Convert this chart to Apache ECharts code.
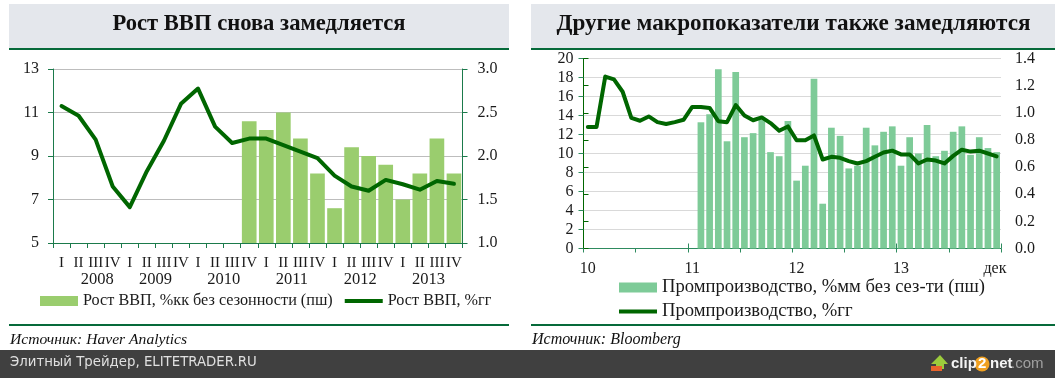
<!DOCTYPE html>
<html><head><meta charset="utf-8">
<style>html,body{margin:0;padding:0;background:#fff}#c{width:1055px;height:378px}</style>
<script src="https://cdn.jsdelivr.net/npm/echarts@6/dist/echarts.min.js"></script>
</head><body><div id="c"></div>
<script>
const quarters = ['I','II','III','IV','I','II','III','IV','I','II','III','IV','I','II','III','IV','I','II','III','IV','I','II','III','IV'];
const years = ['2008','2009','2010','2011','2012','2013'];
const gdpYoY = [11.3,10.85,9.75,7.6,6.65,8.3,9.7,11.4,12.1,10.35,9.6,9.8,9.8,9.5,9.2,8.9,8.1,7.6,7.4,7.9,7.7,7.45,7.85,7.72];
const gdpQoQ = [null,null,null,null,null,null,null,null,null,null,null,2.4,2.3,2.5,2.2,1.8,1.4,2.1,2.0,1.9,1.5,1.8,2.2,1.8];
const monthTickLabels = ['10','11','12','13','дек'];
const months = ['янв10','фев10','мар10','апр10','май10','июн10','июл10','авг10','сен10','окт10','ноя10','дек10','янв11','фев11','мар11','апр11','май11','июн11','июл11','авг11','сен11','окт11','ноя11','дек11','янв12','фев12','мар12','апр12','май12','июн12','июл12','авг12','сен12','окт12','ноя12','дек12','янв13','фев13','мар13','апр13','май13','июн13','июл13','авг13','сен13','окт13','ноя13','дек13'];
const indYoY = [12.8,12.8,18.1,17.8,16.5,13.75,13.45,13.9,13.3,13.1,13.3,13.55,14.9,14.9,14.8,13.4,13.3,15.1,14.0,13.5,13.8,13.2,12.4,12.85,11.4,11.4,11.9,9.37,9.65,9.55,9.2,8.95,9.2,9.65,10.1,10.3,9.9,9.9,8.95,9.37,9.26,8.95,9.75,10.4,10.2,10.3,10.0,9.7];
const indMoM = [null,null,null,null,null,null,null,null,null,null,null,null,null,0.93,0.99,1.32,0.79,1.3,0.82,0.85,0.95,0.71,0.68,0.94,0.5,0.61,1.25,0.33,0.89,0.83,0.59,0.61,0.89,0.76,0.86,0.9,0.61,0.82,0.7,0.91,0.68,0.72,0.86,0.9,0.69,0.82,0.74,0.71];
const names = {a:'Рост ВВП, %кк без сезонности (пш)', b:'Рост ВВП, %гг', c:'Промпроизводство, %мм без сез-ти (пш)', d:'Промпроизводство, %гг'};

const F = '"Liberation Serif", serif';
const txt = '#1a1a1a', dkGreen = '#006600', axGreen = '#1b7a4b';
const grids = [
  {left:53, top:69, width:409.5, height:174},
  {left:583.5, top:58.5, width:417.5, height:190}
];
const lbl = (o)=>Object.assign({color:txt,fontFamily:F,fontSize:16},o);
const yearAt = [2.6,6,10,14,18,22], monthAt = [0.5,12.5,24.5,36.5,47.3];
const xAxis = [
  {gridIndex:0,type:'category',data:quarters,boundaryGap:true,
   axisLine:{lineStyle:{color:axGreen,width:1}},
   axisTick:{show:true,interval:0,length:5,lineStyle:{color:axGreen}},
   axisLabel:{interval:0,margin:13,color:txt,fontFamily:F,fontSize:15}},
  {gridIndex:0,type:'value',min:0,max:24,position:'bottom',
   axisLine:{show:false},axisTick:{show:false},splitLine:{show:false},
   axisLabel:lbl({margin:28,fontSize:16.5,customValues:yearAt,hideOverlap:false,showMinLabel:true,showMaxLabel:true,
     formatter:(v)=>years[yearAt.indexOf(v)]})},
  {gridIndex:1,type:'category',data:months,boundaryGap:true,
   axisLine:{lineStyle:{color:'#2e8b5f',width:1}},axisTick:{show:false},axisLabel:{show:false}},
  {gridIndex:1,type:'value',min:0,max:48,position:'bottom',
   axisLine:{show:false},splitLine:{show:false},
   axisTick:{show:true,length:4,customValues:[0,6,12,18,24,30,36,42,48],lineStyle:{color:'#2e8b5f'}},
   axisLabel:lbl({margin:12,customValues:monthAt,formatter:(v)=>monthTickLabels[monthAt.indexOf(v)]})},
  {gridIndex:1,type:'value',min:0,max:48,position:'bottom',
   axisLine:{show:false},splitLine:{show:false},axisLabel:{show:false},
   axisTick:{show:true,inside:true,length:5,customValues:[12,36,48],lineStyle:{color:'#2e8b5f'}}}
];
const yAxis = [
  {gridIndex:0,type:'value',min:5,max:13,position:'left',
   axisLine:{show:true,lineStyle:{color:axGreen}},
   axisTick:{show:true,length:5,customValues:[5,7,9,11,13],lineStyle:{color:axGreen}},
   axisLabel:lbl({margin:14,customValues:[5,7,9,11,13]}),splitLine:{show:false}},
  {gridIndex:0,type:'value',min:1,max:3,interval:0.5,position:'right',
   axisLine:{show:true,lineStyle:{color:axGreen}},
   axisTick:{show:true,length:5,lineStyle:{color:axGreen}},
   axisLabel:lbl({margin:15,formatter:(v)=>v.toFixed(1)}),
   splitLine:{show:true,lineStyle:{color:'#bdbdbd',width:1}}},
  {gridIndex:1,type:'value',min:0,max:20,interval:2,position:'left',
   axisLine:{show:true,lineStyle:{color:'#2e8b5f'}},
   axisTick:{show:true,length:5,lineStyle:{color:'#2e8b5f'}},
   axisLabel:lbl({margin:10}),splitLine:{show:true,lineStyle:{color:'#d9d9d9',width:1}}},
  {gridIndex:1,type:'value',min:0,max:1.4,interval:0.2,position:'right',
   axisLine:{show:true,lineStyle:{color:dkGreen}},
   axisTick:{show:true,length:5,lineStyle:{color:dkGreen}},
   axisLabel:lbl({margin:14,formatter:(v)=>v.toFixed(1)}),splitLine:{show:false}}
];
const line = (name,data,x,y)=>({name,type:'line',data,xAxisIndex:x,yAxisIndex:y,showSymbol:false,symbol:'none',z:5,
  lineStyle:{color:dkGreen,width:4,cap:'round',join:'round'},itemStyle:{color:dkGreen}});
const bar = (name,data,x,y,color,gap)=>({name,type:'bar',data,xAxisIndex:x,yAxisIndex:y,barCategoryGap:gap,z:2,
  itemStyle:{color}});
const lineIcon = 'path://M0 0L0 0M0 3H38V7H0ZM38 10L38 10';
const legendBase = {itemWidth:38,itemHeight:10,padding:0};

const chart = echarts.init(document.getElementById('c'),null,{renderer:'canvas'});
chart.setOption({
  animation:false,backgroundColor:'#fff',
  grid:grids.map(g=>Object.assign({containLabel:false},g)),
  xAxis,yAxis,
  title:[
    {text:'Рост ВВП снова замедляется',left:259,top:13,textAlign:'center',textStyle:{fontFamily:F,fontWeight:'bold',fontSize:22.6,color:'#111'},padding:0},
    {text:'Другие макропоказатели также замедляются',left:793.5,top:13,textAlign:'center',textStyle:{fontFamily:F,fontWeight:'bold',fontSize:23.2,color:'#111'},padding:0},
    {text:'Источник: Haver Analytics',left:10,top:332,textStyle:{fontFamily:F,fontStyle:'italic',fontWeight:'normal',fontSize:15.6,color:'#111'},padding:0},
    {text:'Источник: Bloomberg',left:532,top:332,textStyle:{fontFamily:F,fontStyle:'italic',fontWeight:'normal',fontSize:16,color:'#111'},padding:0},
    {text:'Элитный Трейдер, ELITETRADER.RU',left:10,top:356,textStyle:{fontFamily:'"DejaVu Sans",sans-serif',fontWeight:'normal',fontSize:13.3,color:'#e0e0e0'},padding:0}
  ],
  legend:[
    Object.assign({},legendBase,{data:[{name:names.a,icon:'rect'},{name:names.b,icon:lineIcon}],left:40,top:293,orient:'horizontal',itemGap:12,
      textStyle:{color:txt,fontFamily:F,fontSize:16.2}}),
    Object.assign({},legendBase,{data:[{name:names.c,icon:'rect'},{name:names.d,icon:lineIcon}],left:619,top:278,orient:'vertical',itemGap:5,
      textStyle:{color:txt,fontFamily:F,fontSize:18.6}})
  ],
  series:[
    bar(names.a,gdpQoQ,0,1,'#9acd6e','14%'),
    line(names.b,gdpYoY,0,0),
    bar(names.c,indMoM,2,3,'#7ecb98','23%'),
    line(names.d,indYoY,2,2)
  ],
  graphic:[
    {type:'rect',silent:true,z:-10,shape:{x:9,y:4,width:500,height:44},style:{fill:'#e4e7ec'}},
    {type:'rect',silent:true,z:-10,shape:{x:531,y:4,width:524,height:44},style:{fill:'#e4e7ec'}},
    {type:'rect',silent:true,z:-10,shape:{x:9,y:48,width:500,height:2},style:{fill:'#066a3a'}},
    {type:'rect',silent:true,z:-10,shape:{x:531,y:48,width:524,height:2},style:{fill:'#066a3a'}},
    {type:'rect',silent:true,z:-10,shape:{x:9,y:324,width:500,height:2},style:{fill:'#066a3a'}},
    {type:'rect',silent:true,z:-10,shape:{x:531,y:324,width:524,height:2},style:{fill:'#066a3a'}},
    {type:'rect',silent:true,z:-10,shape:{x:0,y:350,width:1055,height:28},style:{fill:'#404040'}},
    {type:'polygon',silent:true,z:10,shape:{points:[[940,355],[948,364],[944,364],[944,369],[936,369],[936,364],[931,364]]},style:{fill:'#9ccc3c'}},
    {type:'rect',silent:true,z:11,shape:{x:931,y:366,width:11,height:5},style:{fill:'#e8642c'}},
    {type:'circle',silent:true,z:10,shape:{cx:982,cy:364,r:7.5},style:{fill:'#f0a020'}},
    {type:'text',silent:true,z:11,x:951,y:356,style:{text:'clip',fill:'#f4f4f4',font:'bold 15px "Liberation Sans"'}},
    {type:'text',silent:true,z:11,x:978,y:356,style:{text:'2',fill:'#fff',font:'bold 15px "Liberation Sans"'}},
    {type:'text',silent:true,z:11,x:990,y:356,style:{text:'net',fill:'#f4f4f4',font:'bold 15px "Liberation Sans"'}},
    {type:'text',silent:true,z:11,x:1011,y:356,style:{text:'.com',fill:'#a0a0a0',font:'15px "Liberation Sans"'}}
  ]
});
</script></body></html>
